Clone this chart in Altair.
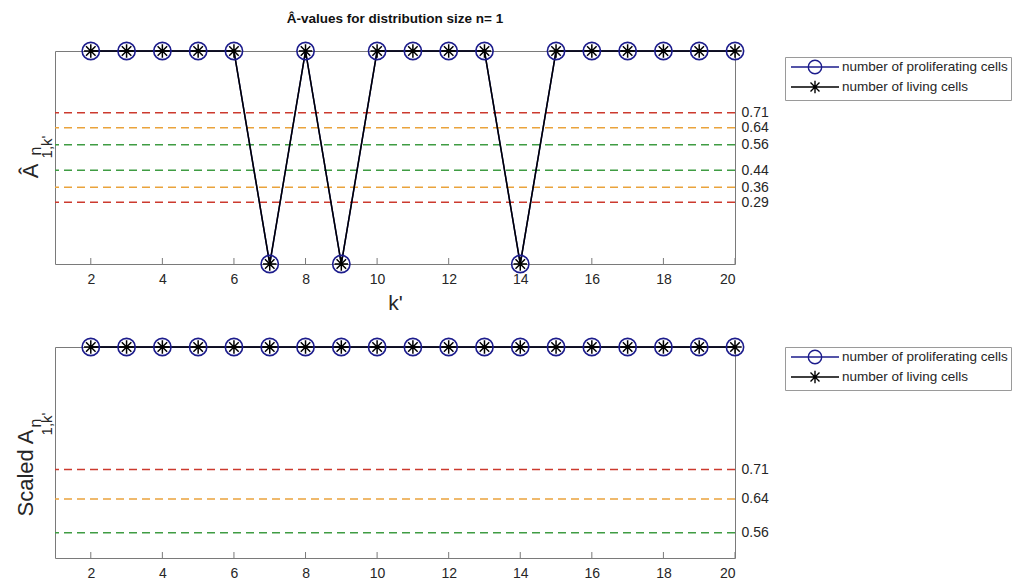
import altair as alt
import pandas as pd

# ---------------- data ----------------
k_values = list(range(2, 21))
top_proliferating = [1, 1, 1, 1, 1, 0, 1, 0, 1, 1, 1, 1, 0, 1, 1, 1, 1, 1, 1]
top_living = [1, 1, 1, 1, 1, 0, 1, 0, 1, 1, 1, 1, 0, 1, 1, 1, 1, 1, 1]
bot_proliferating = [1] * 19
bot_living = [1] * 19

top_thresholds = [0.71, 0.64, 0.56, 0.44, 0.36, 0.29]
top_thr_colors = ["#cc3a2e", "#eaa33c", "#3f9c43", "#3f9c43", "#eaa33c", "#cc3a2e"]
bot_thresholds = [0.71, 0.64, 0.56]
bot_thr_colors = ["#cc3a2e", "#eaa33c", "#3f9c43"]

x_tick_values = [2, 4, 6, 8, 10, 12, 14, 16, 18, 20]

SER_P = "number of proliferating cells"
SER_L = "number of living cells"
series_names = [SER_P, SER_L]
series_colors = ["#1c1c8c", "#000000"]

FONT = "Liberation Sans"
GRAY = "#7a7a7a"
TXT = "#262626"

CIRCLE_LEG = "M-4,0L4,0M-1.12,0A1.12,1.12 0 1,0 1.12,0A1.12,1.12 0 1,0 -1.12,0"
STAR_LEG = "M-4,0L4,0M0,-1.05L0,1.05M-0.75,-0.75L0.75,0.75M-0.75,0.75L0.75,-0.75"
STAR = "M-1,0L1,0M0,-1L0,1M-0.71,-0.71L0.71,0.71M-0.71,0.71L0.71,-0.71"


def make_df(prolif, living):
    rows = []
    for k, v in zip(k_values, prolif):
        rows.append({"k": k, "v": v, "series": SER_P})
    for k, v in zip(k_values, living):
        rows.append({"k": k, "v": v, "series": SER_L})
    return pd.DataFrame(rows)


def panel(prolif, living, thr, thr_colors, ydom, W, H, xtitle, ylabels, legy):
    df = make_df(prolif, living)
    thr_df = pd.DataFrame({"t": thr, "c": thr_colors})
    tick_df = pd.DataFrame({"k": x_tick_values})

    xaxis = alt.Axis(values=x_tick_values, domain=False, ticks=False, tickSize=0,
                     grid=False, labelFontSize=14, labelColor=TXT, labelFont=FONT,
                     labelPadding=8, title=xtitle, titleFont=FONT,
                     titleFontSize=21, titleFontWeight="normal", titleColor=TXT,
                     titlePadding=6)
    yaxis = alt.Axis(orient="right", values=thr, format=".2f", domain=False,
                     ticks=False, tickSize=0, grid=False, labelFontSize=14,
                     labelColor=TXT, labelFont=FONT, labelPadding=6, title=None,
                     labelBaseline="middle")
    xs = alt.Scale(domain=[1, 20], nice=False, zero=False)
    ys = alt.Scale(domain=ydom, nice=False, zero=False)

    X = alt.X("k:Q", scale=xs, axis=xaxis)
    Y = alt.Y("v:Q", scale=ys, axis=yaxis)

    rules = alt.Chart(thr_df).mark_rule(strokeDash=[8, 5], strokeWidth=1.5).encode(
        y=alt.Y("t:Q", scale=ys, axis=yaxis),
        stroke=alt.Stroke("c:N", scale=None, legend=None),
    )
    ticks = alt.Chart(tick_df).mark_rule(color=GRAY, strokeWidth=1).encode(
        x=alt.X("k:Q", scale=xs, axis=xaxis),
        y=alt.value(H), y2=alt.value(H - 6),
    )
    lines_p = alt.Chart(df).transform_filter(alt.datum.series == SER_P).mark_line(
        strokeWidth=1.5, color=series_colors[0]).encode(x=X, y=Y, order="k:Q")
    lines_l = alt.Chart(df).transform_filter(alt.datum.series == SER_L).mark_line(
        strokeWidth=1.5, color=series_colors[1]).encode(x=X, y=Y, order="k:Q")
    circles = alt.Chart(df).transform_filter(alt.datum.series == SER_P).mark_point(
        shape="circle", size=300, filled=False, strokeWidth=1.6, opacity=1,
        color=series_colors[0]).encode(x=X, y=Y)
    stars = alt.Chart(df).transform_filter(alt.datum.series == SER_L).mark_point(
        shape=STAR, size=180, filled=False, strokeWidth=1.5, opacity=1,
        color=series_colors[1]).encode(x=X, y=Y)

    leg = alt.Legend(title=None, orient="none", legendX=W + 50, legendY=legy,
                     strokeColor="#9a9a9a", fillColor="white", padding=3,
                     labelFont=FONT, labelFontSize=13.5, labelColor=TXT, labelLimit=0,
                     symbolSize=144, symbolStrokeWidth=1.4, symbolOffset=20,
                     labelOffset=20, rowPadding=0, symbolFillColor="transparent")
    legend_layer = alt.Chart(df).transform_filter("false").mark_point(
        filled=False, opacity=1).encode(
        x=X, y=Y,
        color=alt.Color("series:N", scale=alt.Scale(domain=series_names, range=series_colors),
                        legend=leg),
        shape=alt.Shape("series:N", scale=alt.Scale(domain=series_names,
                                                     range=[CIRCLE_LEG, STAR_LEG]),
                        legend=leg),
    )

    texts = []
    for (s, fx, fy, fs) in ylabels:
        texts.append(
            alt.Chart(pd.DataFrame({"s": [s]})).mark_text(
                angle=270, align="center", baseline="middle", font=FONT,
                fontSize=fs, color=TXT).encode(
                text="s:N", x=alt.value(fx), y=alt.value(fy))
        )

    return alt.layer(rules, ticks, lines_p, lines_l, circles, stars, legend_layer,
                     *texts).properties(width=W, height=H)


top = panel(top_proliferating, top_living, top_thresholds, top_thr_colors, [0, 1],
            680, 213, "k'",
            [("Â", -24, 120, 22), ("n", -19, 100, 16), ("1,k'", -8, 96, 15)], 6).properties(
    title=alt.Title("Â-values for distribution size n= 1", font=FONT, fontSize=13.5,
                    fontWeight="bold", color="#111", anchor="middle", frame="group",
                    offset=14)
)
bottom = panel(bot_proliferating, bot_living, bot_thresholds, bot_thr_colors, [0.5, 1],
               680, 211, None,
               [("Scaled A", -29, 126, 22), ("n", -19, 76, 16), ("1,k'", -8, 77, 15)], 0)

chart = alt.vconcat(top, bottom, spacing=20).resolve_scale(
    x="independent", y="independent", color="independent", shape="independent",
    stroke="independent"
).resolve_legend(color="independent", shape="independent").configure_view(
    stroke=GRAY, strokeWidth=1
).properties(padding={"left": 6, "top": 3, "right": 0, "bottom": 5})

chart.save("out.html", embed_options={"renderer": "svg", "actions": False})
